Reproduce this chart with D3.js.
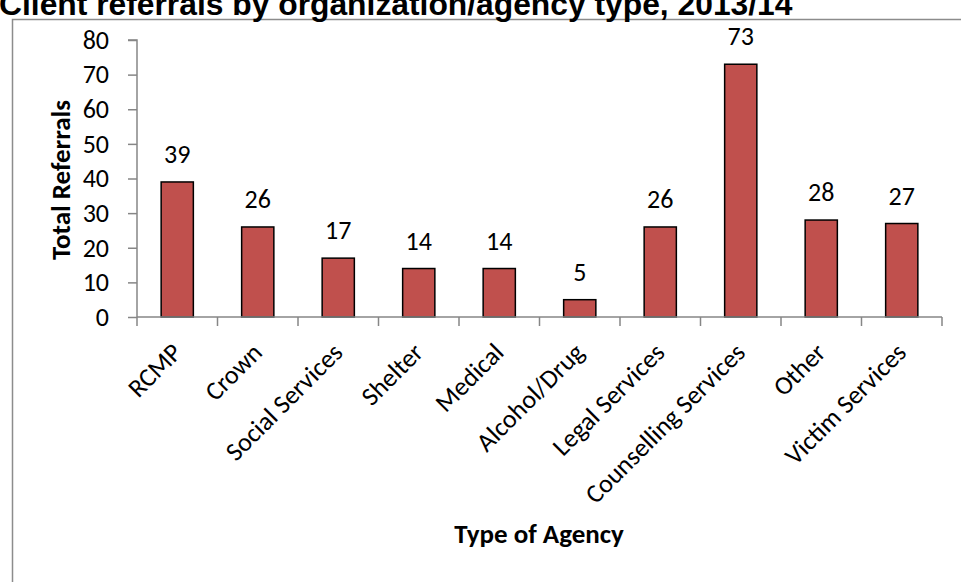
<!DOCTYPE html>
<html><head><meta charset="utf-8">
<script src="https://cdn.jsdelivr.net/npm/d3@7"></script>
<style>
html,body{margin:0;padding:0;background:#fff;}
svg{display:block;}
</style></head>
<body>
<svg id="chart" width="961" height="582"></svg>
<script>
const title = "Client referrals by organization/agency type, 2013/14";
const categories = ["RCMP","Crown","Social Services","Shelter","Medical","Alcohol/Drug","Legal Services","Counselling Services","Other","Victim Services"];
const referrals = [39,26,17,14,14,5,26,73,28,27];
const yTicks = [0,10,20,30,40,50,60,70,80];
const yTitle = "Total Referrals";
const xTitle = "Type of Agency";

(function(){
const svg = d3.select("#chart");
const labelFont = "Carlito, Calibri, Lato, 'Open Sans', sans-serif";

// outer frame
svg.append("rect").attr("x",12.5).attr("y",19.5).attr("width",1000).attr("height",700)
  .attr("fill","none").attr("stroke","#8c8c8c").attr("stroke-width",1.5);

// title (clipped at top, as in the reference)
svg.append("text").attr("x",-1).attr("y",15)
  .attr("font-family","'Liberation Sans', Arial, sans-serif").attr("font-weight","bold")
  .attr("font-size",31.8).attr("fill","#000").text(title);

const pl = 137, pr = 942, pt = 40, pb = 317;
const x = d3.scaleBand().domain(categories).range([pl,pr]).paddingInner(0.6).paddingOuter(0.3);
const y = d3.scaleLinear().domain([0,80]).range([pb,pt]);

// y axis
const yAxis = svg.append("g").attr("transform",`translate(${pl},0)`)
  .call(d3.axisLeft(y).tickValues(yTicks).tickSize(9).tickPadding(19).tickFormat(d3.format("d")));
yAxis.selectAll("path,line").attr("stroke","#868686").attr("stroke-width",1.5);
yAxis.select(".domain").attr("d",`M-9,${pt}H0V${pb}`);
yAxis.selectAll("text").attr("font-family",labelFont).attr("font-size",26).attr("fill","#000");

// bars
svg.append("g").selectAll("rect").data(referrals).join("rect")
  .attr("x",(d,i)=>x(categories[i]))
  .attr("y",d=>y(d))
  .attr("width",x.bandwidth())
  .attr("height",d=>y(0)-y(d))
  .attr("fill","#C0504D").attr("stroke","#000").attr("stroke-width",1.5);

// x axis (ticks at category boundaries)
const step = x.step();
const boundaries = d3.range(categories.length+1).map(i=>pl+i*step);
const xg = svg.append("g");
xg.append("line").attr("x1",pl).attr("x2",pr).attr("y1",pb).attr("y2",pb)
  .attr("stroke","#868686").attr("stroke-width",1.5);
xg.selectAll("line.tk").data(boundaries).join("line").attr("class","tk")
  .attr("x1",d=>d).attr("x2",d=>d).attr("y1",pb).attr("y2",pb+9)
  .attr("stroke","#868686").attr("stroke-width",1.5);

// category labels
svg.append("g").selectAll("text").data(categories).join("text")
  .attr("transform",d=>`translate(${x(d)+x.bandwidth()/2+6},${pb+37}) rotate(-45)`)
  .attr("text-anchor","end")
  .attr("font-family",labelFont).attr("font-size",26).attr("fill","#000")
  .text(d=>d);

// value labels
svg.append("g").selectAll("text").data(referrals).join("text")
  .attr("x",(d,i)=>x(categories[i])+x.bandwidth()/2)
  .attr("y",d=>y(d)-19)
  .attr("text-anchor","middle")
  .attr("font-family",labelFont).attr("font-size",26).attr("fill","#000")
  .text(d=>d);

// axis titles
svg.append("text").attr("transform","translate(70,180) rotate(-90)")
  .attr("text-anchor","middle").attr("font-family",labelFont).attr("font-weight","bold")
  .attr("font-size",27).text(yTitle);
svg.append("text").attr("x",539).attr("y",543)
  .attr("text-anchor","middle").attr("font-family",labelFont).attr("font-weight","bold")
  .attr("font-size",27).text(xTitle);
})();
</script>
</body></html>
